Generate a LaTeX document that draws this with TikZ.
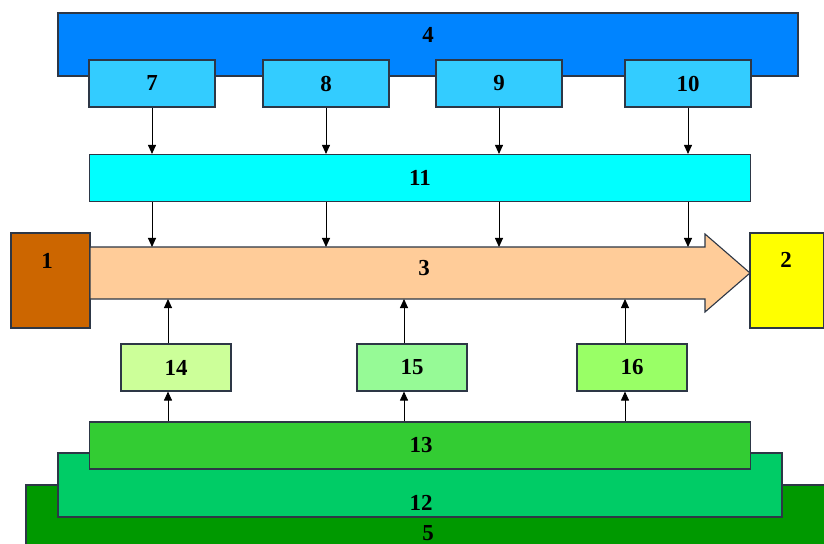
\documentclass[tikz,border=0pt]{standalone}
\usepackage{fontspec}
\setmainfont{Liberation Serif}
\usetikzlibrary{arrows.meta}
\definecolor{c4}{RGB}{0,132,255}
\definecolor{cs}{RGB}{51,204,255}
\definecolor{c11}{RGB}{0,255,255}
\definecolor{c1}{RGB}{204,102,0}
\definecolor{c3}{RGB}{255,204,153}
\definecolor{c2}{RGB}{255,255,0}
\definecolor{c14}{RGB}{204,255,153}
\definecolor{c15}{RGB}{150,250,150}
\definecolor{c16}{RGB}{153,255,102}
\definecolor{c13}{RGB}{51,204,51}
\definecolor{c12}{RGB}{0,204,102}
\definecolor{c5}{RGB}{0,153,0}
\definecolor{lc}{RGB}{45,55,70}
\tikzset{
  box/.style={draw=lc, line width=1.1bp, inner sep=0pt, rectangle},
  lab/.style={font=\fontsize{23}{23}\selectfont\bfseries, text=black, inner sep=0pt},
  arr/.style={draw=black, line width=0.9bp, -{Triangle[length=9bp,width=8bp]}}
}
\begin{document}
\begin{tikzpicture}[x=1bp,y=-1bp]
\useasboundingbox (0,0) rectangle (824,544);
\clip (0,0) rectangle (824,544);
\fill[white] (0,0) rectangle (824,544);
% bottom layers
\node[box, fill=c5, minimum width=820bp, minimum height=80bp] (n5) at (436,525) {};
\node[box, fill=c12, minimum width=724bp, minimum height=64bp] (n12) at (420,485) {};
\node[box, fill=c13, minimum width=661bp, minimum height=47bp] (n13) at (420,445.5) {};
\node[lab] (t5) at (428,533) {5};
\node[lab] (t12) at (421,503) {12};
\node[lab] (t13) at (421,445) {13};
% top
\node[box, fill=c4, minimum width=740bp, minimum height=63bp] (n4) at (428,44.5) {};
\node[lab] (t4) at (428,35) {4};
\node[box, fill=cs, minimum width=126bp, minimum height=47bp, lab] (n7) at (152,83.5) {7};
\node[box, fill=cs, minimum width=126bp, minimum height=47bp, lab] (n8) at (326,83.5) {8};
\node[box, fill=cs, minimum width=126bp, minimum height=47bp, lab] (n9) at (499,83.5) {9};
\node[box, fill=cs, minimum width=126bp, minimum height=47bp, lab] (n10) at (688,83.5) {10};
\node[box, fill=c11, minimum width=661bp, minimum height=47bp, lab] (n11) at (420,178) {11};
% side boxes
\node[box, fill=c1, minimum width=79bp, minimum height=95bp] (n1) at (50.5,280.5) {};
\node[lab] (t1) at (47,261) {1};
\node[box, fill=c2, minimum width=74bp, minimum height=95bp] (n2) at (787,280.5) {};
\node[lab] (t2) at (786,260) {2};
% big arrow 3
\coordinate (a3tl) at (90,247);
\coordinate (a3bl) at (90,299);
\draw[draw=lc, line width=1.1bp, fill=c3, line join=miter]
  (a3tl) -- (705,247) -- (705,234) -- (750,273) -- (705,312) -- (705,299) -- (a3bl) -- cycle;
\node[lab] (t3) at (424,268) {3};
% lower small boxes
\node[box, fill=c14, minimum width=110bp, minimum height=47bp, lab] (n14) at (176,367.5) {14};
\node[box, fill=c15, minimum width=110bp, minimum height=47bp, lab] (n15) at (412,367.5) {15};
\node[box, fill=c16, minimum width=110bp, minimum height=47bp, lab] (n16) at (632,367.5) {16};
% arrows top
\foreach \n in {n7,n8,n9,n10}{
  \draw[arr] (\n.south) -- (\n.south |- n11.north);
  \draw[arr] (\n.south |- n11.south) -- (\n.south |- a3tl);
}
% arrows bottom
\foreach \n/\d in {n14/8,n15/8,n16/7}{
  \draw[arr] ([xshift=-\d bp]\n.south |- n13.north) -- ([xshift=-\d bp]\n.south);
  \draw[arr] ([xshift=-\d bp]\n.north) -- ([xshift=-\d bp]\n.north |- a3bl);
}
\end{tikzpicture}
\end{document}
